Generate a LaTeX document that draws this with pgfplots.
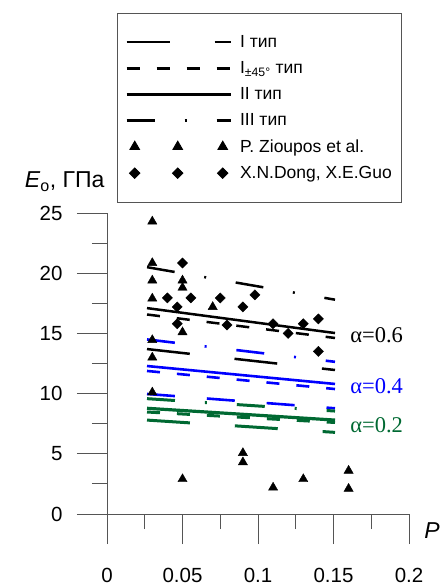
\documentclass[border=0pt]{standalone}
\usepackage{fontspec}
\setmainfont{Liberation Sans}
\newfontfamily\alphafont{Liberation Serif}
\usepackage{pgfplots}
\pgfplotsset{compat=1.18}

\definecolor{alphablue}{RGB}{0,0,255}
\definecolor{alphagreen}{RGB}{0,105,50}
\definecolor{axisgray}{RGB}{85,85,85}

% line types of the model curves
\tikzset{
  typeI/.style={dash pattern=on 43pt off 45pt},
  typeIshort/.style={dash pattern=on 28pt off 32pt},
  typeIpm/.style={dash pattern=on 13pt off 17pt},
  typeII/.style={solid},
  typeIII/.style={dash pattern=on 28pt off 30pt on 2pt off 30pt},
}

\begin{document}
\begin{tikzpicture}
\begin{axis}[
  at={(0pt,0pt)}, anchor=south west,
  scale only axis, width=302pt, height=301pt,
  xmin=0, xmax=0.2, ymin=0, ymax=25,
  axis x line=bottom, axis y line=left,
  axis line style={-, axisgray, line width=0.9pt},
  xtick={0,0.05,0.1,0.15,0.2},
  xticklabels={0,0.05,0.1,0.15,0.2},
  minor xtick={0.025,0.075,0.125,0.175},
  ytick={0,5,10,15,20,25},
  yticklabels={0,5,10,15,20,25},
  minor ytick={2.5,7.5,12.5,17.5,22.5},
  tick align=outside,
  major tick length=30pt, minor tick length=15pt,
  tick style={axisgray, line width=0.9pt},
  ticklabel style={font=\fontsize{20.5}{24}\selectfont},
  xticklabel style={yshift=-21pt},
  yticklabel style={xshift=-11pt},
  xlabel={\textit{P}},
  xlabel style={at={(axis description cs:1.076,-0.056)}, anchor=center,
    font=\fontsize{23}{26}\selectfont},
  ylabel={\textit{E}\textsubscript{o}, ГПа},
  ylabel style={at={(axis description cs:-0.140,1.103)}, anchor=center, rotate=-90,
    font=\fontsize{23}{26}\selectfont},
  legend style={
    at={(axis description cs:0.0331,1.6645)}, anchor=north west,
    draw=axisgray, line width=0.9pt,
    inner xsep=8pt, inner ysep=20pt,
    font=\fontsize{17.5}{20}\selectfont,
    row sep=8.5pt,
    /tikz/every odd column/.append style={column sep=6pt},
  },
  legend cell align=left,
  clip=false,
]
% legend samples
\addlegendimage{legend image code/.code={
  \draw[black, line width=2.6pt, typeI] (0pt,0pt) -- (104pt,0pt);}}
\addlegendentry{I тип}
\addlegendimage{legend image code/.code={
  \draw[black, line width=2.6pt, typeIpm] (0pt,0pt) -- (104pt,0pt);}}
\addlegendentry{I\textsubscript{±45°} тип}
\addlegendimage{legend image code/.code={
  \draw[black, line width=2.6pt] (0pt,0pt) -- (104pt,0pt);}}
\addlegendentry{II тип}
\addlegendimage{legend image code/.code={
  \draw[black, line width=2.6pt, typeIII] (0pt,0pt) -- (104pt,0pt);}}
\addlegendentry{III тип}
\addlegendimage{legend image code/.code={
  \path[draw=none, fill=none] plot[only marks, mark=triangle*, mark size=5.5pt,
      mark options={draw=black, fill=black}]
    coordinates {(8pt,0pt) (51pt,0pt) (96pt,0pt)};}}
\addlegendentry{P. Zioupos et al.}
\addlegendimage{legend image code/.code={
  \path[draw=none, fill=none] plot[only marks, mark=square*, mark size=3.7pt,
      mark options={draw=black, fill=black, rotate=45}]
    coordinates {(8pt,0pt) (51pt,0pt) (96pt,0pt)};}}
\addlegendentry{X.N.Dong, X.E.Guo}

% alpha = 0.6
\addplot[forget plot, black, line width=2.5pt, typeIII] coordinates {(0.0265,20.5) (0.151,17.8)};
\addplot[forget plot, black, line width=2.5pt, typeII] coordinates {(0.0265,17.1) (0.151,15.03)};
\addplot[forget plot, black, line width=2.5pt, typeIpm] coordinates {(0.0265,16.57) (0.151,14.62)};
\addplot[forget plot, black, line width=2.5pt, typeI] coordinates {(0.0265,13.7) (0.151,11.96)};
% alpha = 0.4
\addplot[forget plot, alphablue, line width=2.6pt, typeIII] coordinates {(0.0265,14.5) (0.151,12.64)};
\addplot[forget plot, alphablue, line width=2.6pt, typeII] coordinates {(0.0265,12.29) (0.151,10.80)};
\addplot[forget plot, alphablue, line width=2.6pt, typeIpm] coordinates {(0.0265,11.88) (0.151,10.38)};
\addplot[forget plot, alphablue, line width=2.6pt, typeIshort] coordinates {(0.0265,9.97) (0.151,8.78)};
% alpha = 0.2
\addplot[forget plot, alphagreen, line width=3pt, typeIII] coordinates {(0.0265,9.58) (0.151,8.55)};
\addplot[forget plot, alphagreen, line width=3.2pt, typeII] coordinates {(0.0265,8.78) (0.151,7.80)};
\addplot[forget plot, alphagreen, line width=3pt, typeIpm] coordinates {(0.0265,8.47) (0.151,7.60)};
\addplot[forget plot, alphagreen, line width=3pt, typeI] coordinates {(0.0265,7.80) (0.151,6.78)};

% P. Zioupos et al.
\addplot[forget plot, only marks, mark=triangle*, mark size=5.3pt, black] coordinates {
  (0.03,24.3) (0.03,20.85) (0.03,19.4) (0.03,17.9) (0.03,14.45) (0.03,13.0) (0.03,10.1)
  (0.05,19.4) (0.05,18.8) (0.05,15.1) (0.05,2.9)
  (0.07,17.2)
  (0.09,5.07) (0.09,4.3)
  (0.11,2.2) (0.13,2.9) (0.16,3.6) (0.16,2.1)
};
% X.N.Dong, X.E.Guo
\addplot[forget plot, only marks, mark=square*, mark size=3.6pt, mark options={rotate=45}, black] coordinates {
  (0.05,20.85) (0.04,17.95) (0.0556,17.95) (0.075,17.95) (0.098,18.2)
  (0.0465,17.2) (0.09,17.2) (0.0465,15.8) (0.0795,15.7) (0.11,15.8)
  (0.12,15.0) (0.13,15.8) (0.14,16.2) (0.14,13.5)
};

\node[anchor=west, inner sep=0pt, text=black, font=\alphafont\fontsize{22.5}{26}\selectfont]
  at (axis cs:0.161,14.87) {α=0.6};
\node[anchor=west, inner sep=0pt, text=alphablue, font=\alphafont\fontsize{22.5}{26}\selectfont]
  at (axis cs:0.161,10.63) {α=0.4};
\node[anchor=west, inner sep=0pt, text=alphagreen, font=\alphafont\fontsize{22.5}{26}\selectfont]
  at (axis cs:0.161,7.39) {α=0.2};
\end{axis}
% page extent
\pgfresetboundingbox
\path (-107pt,-74pt) rectangle (338pt,514pt);
\end{tikzpicture}
\end{document}
